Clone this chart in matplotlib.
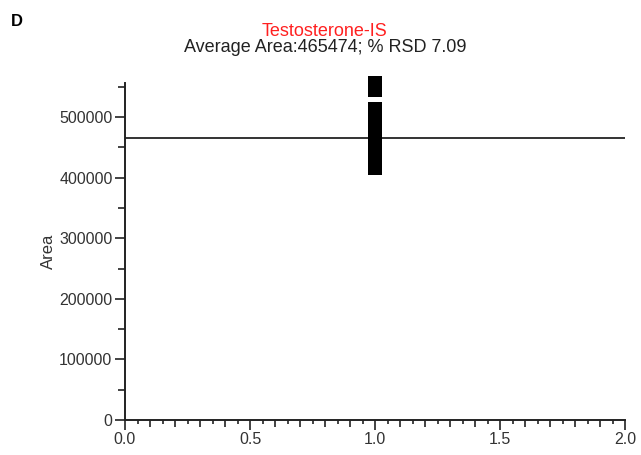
import matplotlib
matplotlib.use("Agg")
import matplotlib.pyplot as plt
from matplotlib.ticker import MultipleLocator, FixedLocator, NullFormatter

plt.rcParams['font.family'] = ['Liberation Sans', 'DejaVu Sans']

# Data
sample_x = [1.0] * 14
areas = [556000, 545000, 513000, 496000, 480000, 466000, 456000,
         448000, 441000, 435000, 429000, 423000, 418000, 416000]
average_area = 465474
rsd = 7.09
title_name = "Testosterone-IS"
panel_label = "D"

fig = plt.figure(figsize=(6.41, 4.55), dpi=100)
ax = fig.add_axes([125/641, 1 - 420/455, 500/641, (420 - 83)/455])

ax.axhline(average_area, color='#333333', lw=1.4, zorder=2)
ax.plot(sample_x, areas, linestyle='none', marker='s', markersize=10.5,
        color='black', markeredgewidth=0, clip_on=False, zorder=3)

ax.set_xlim(0, 2.0)
ax.set_ylim(0, 556500)

for s in ['top', 'right']:
    ax.spines[s].set_visible(False)
for s in ['left', 'bottom']:
    ax.spines[s].set_linewidth(1.4)
    ax.spines[s].set_color('#222222')

ax.xaxis.set_major_locator(MultipleLocator(0.5))
ax.xaxis.set_minor_locator(MultipleLocator(0.1))
ax.yaxis.set_major_locator(MultipleLocator(100000))
ax.yaxis.set_minor_locator(MultipleLocator(50000))
ax.xaxis.set_major_formatter(plt.FuncFormatter(lambda v, p: f"{v:.1f}"))
ax.yaxis.set_major_formatter(plt.FuncFormatter(lambda v, p: f"{int(v)}"))

ax.tick_params(axis='both', which='major', direction='out', length=7, width=1.2,
               color='#222222', labelsize=11.5, labelcolor='#333333', pad=2)
ax.tick_params(axis='both', which='minor', direction='out', length=5, width=1.2,
               color='#222222')

sec = ax.secondary_xaxis('bottom')
sec.xaxis.set_major_locator(FixedLocator([0.05 + 0.1 * i for i in range(20)]))
sec.xaxis.set_major_formatter(NullFormatter())
sec.tick_params(direction='out', length=3, width=1.2, color='#222222')
sec.spines['bottom'].set_visible(False)

ax.set_ylabel("Area", fontsize=12, color='#333333', labelpad=2)

fig.text(325/641, 1 - 31/455, title_name, color='#ff2020',
         fontsize=13, ha='center', va='center')
fig.text(325/641, 1 - 47/455,
         f"Average Area:{average_area}; % RSD {rsd}", color='#222222',
         fontsize=13, ha='center', va='center')
fig.text(11/641, 1 - 22/455, panel_label, fontsize=12, fontweight='bold',
         ha='left', va='center')

fig.savefig("out.png", dpi=100)
